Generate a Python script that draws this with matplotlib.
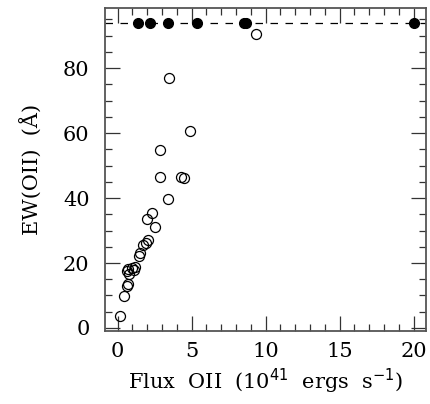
import matplotlib
matplotlib.use("Agg")
import matplotlib.pyplot as plt
from matplotlib.ticker import MultipleLocator

# open circles: measured EW vs flux
open_x = [0.15, 0.45, 0.65, 0.70, 0.65, 0.75, 0.70, 1.00, 1.10, 1.15,
          1.45, 1.55, 1.75, 1.95, 2.05, 2.00, 2.50, 2.30, 3.40, 2.90,
          4.30, 4.50, 2.90, 4.90, 3.50, 9.35]
open_y = [3.7, 9.8, 13.0, 13.5, 17.6, 16.5, 18.0, 18.4, 17.8, 18.7,
          22.2, 23.0, 25.5, 26.1, 27.1, 33.4, 31.2, 35.3, 39.6, 46.5,
          46.5, 46.2, 54.7, 60.6, 77.0, 90.4]

# filled circles: lower limits at the top
lim_x = [1.4, 2.2, 3.4, 5.4, 8.55, 8.65, 20.0]
lim_y = [94, 94, 94, 94, 94, 94, 94]
LIM_LEVEL = 94

plt.rcParams["font.family"] = ["DejaVu Serif"]

fig = plt.figure(figsize=(4.30, 4.04), dpi=100)
ax = fig.add_axes([0.244, 0.181, 0.747, 0.799])

ax.axhline(LIM_LEVEL, color="black", lw=0.9, ls=(0, (6, 6)), zorder=1)
ax.plot(open_x, open_y, "o", mfc="none", mec="black", mew=0.9, ms=7.2, zorder=2)
ax.plot(lim_x, lim_y, "o", color="black", ms=7.0, zorder=3)

ax.set_xlim(-0.85, 20.85)
ax.set_ylim(-0.9, 98.5)
ax.xaxis.set_major_locator(MultipleLocator(5))
ax.xaxis.set_minor_locator(MultipleLocator(1))
ax.yaxis.set_major_locator(MultipleLocator(20))
ax.yaxis.set_minor_locator(MultipleLocator(5))
ax.tick_params(which="both", direction="in", top=True, right=True,
               color="#333333", width=0.9, labelsize=15)
ax.tick_params(axis="x", which="major", pad=8)
ax.tick_params(axis="y", which="major", pad=11)
ax.tick_params(which="major", length=11)
ax.tick_params(which="minor", length=5)
for s in ax.spines.values():
    s.set_color("#555555")
    s.set_linewidth(1.3)

ax.set_xlabel(r"Flux  OII  (10$^{41}$  ergs  s$^{-1}$)", fontsize=15, labelpad=4)
ax.set_ylabel("EW(OII)  (Å)", fontsize=15, labelpad=15)

fig.savefig("out.png", dpi=100)
